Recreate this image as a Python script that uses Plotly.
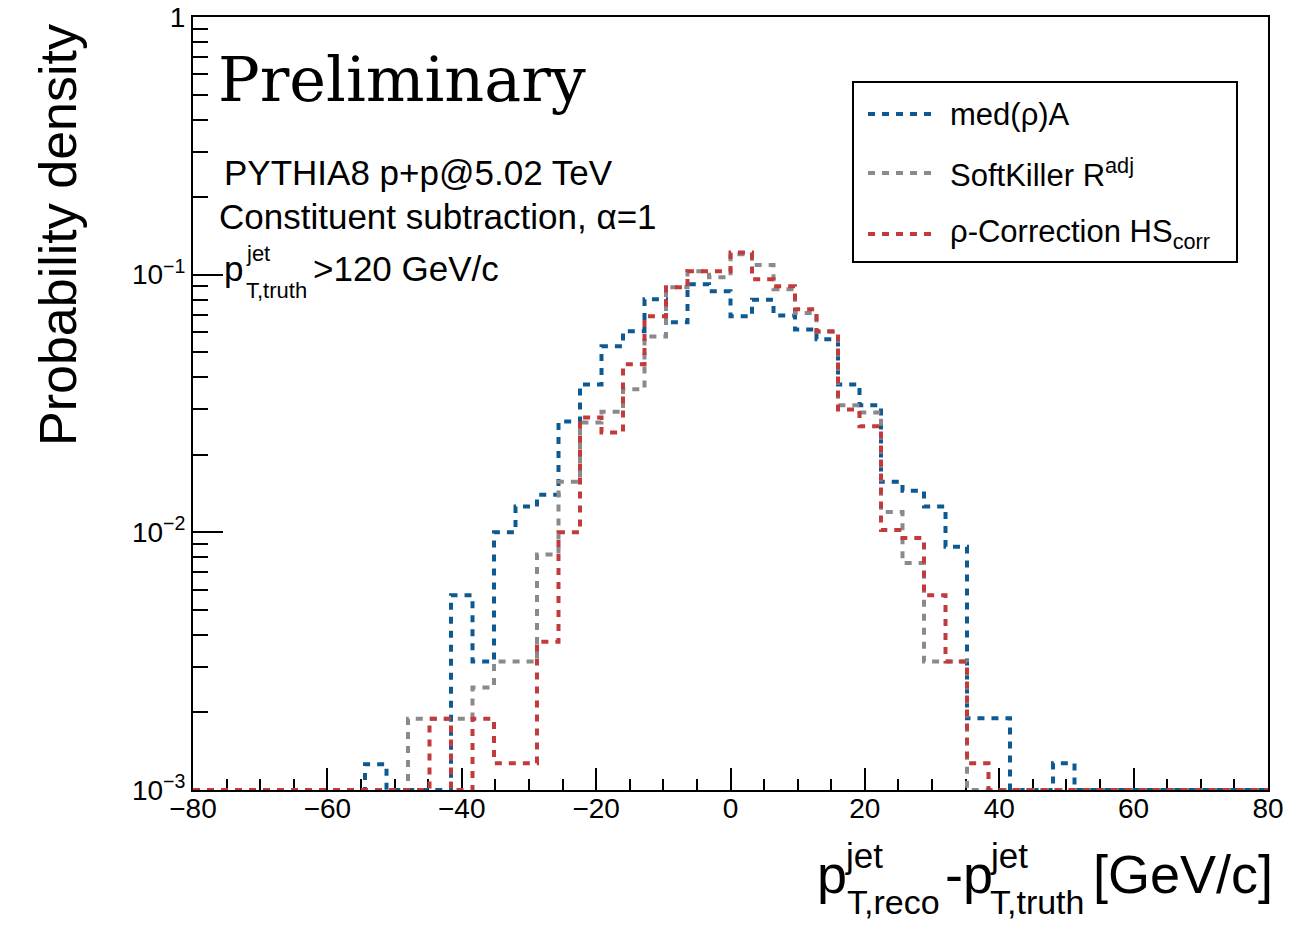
import numpy as np
import plotly.graph_objects as go

# Binning: 50 bins of width 3.2 GeV/c over [-80, 80]
X_MIN, X_MAX, N_BINS = -80.0, 80.0, 50
Y_MIN_EXP, Y_MAX_EXP = -3, 0

# Probability density per bin (lowest bin first)
med_rho_A = [
    0, 0, 0, 0, 0, 0, 0, 0, 1.26e-3, 0,
    0, 0, 5.7e-3, 3.15e-3, 1.00e-2, 1.26e-2, 1.40e-2, 2.69e-2, 3.75e-2, 5.27e-2,
    6.03e-2, 8.02e-2, 6.53e-2, 9.18e-2, 8.62e-2, 6.89e-2, 8.0e-2, 6.95e-2, 6.13e-2, 5.61e-2,
    3.75e-2, 3.11e-2, 1.57e-2, 1.45e-2, 1.26e-2, 8.8e-3, 1.9e-3, 1.9e-3, 0, 0,
    1.27e-3, 0, 0, 0, 0, 0, 0, 0, 0, 0,
]
softkiller_radj = [
    0, 0, 0, 0, 0, 0, 0, 0, 0, 0,
    1.89e-3, 1.89e-3, 1.89e-3, 2.5e-3, 3.15e-3, 3.15e-3, 8.2e-3, 1.57e-2, 2.67e-2, 2.94e-2,
    3.59e-2, 5.76e-2, 8.93e-2, 0.103, 9.77e-2, 0.120, 0.109, 8.78e-2, 7.1e-2, 6.0e-2,
    3.11e-2, 2.92e-2, 1.2e-2, 7.6e-3, 3.15e-3, 3.15e-3, 0, 0, 0, 0,
    0, 0, 0, 0, 0, 0, 0, 0, 0, 0,
]
rho_correction_hs = [
    0, 0, 0, 0, 0, 0, 0, 0, 0, 0,
    0, 1.89e-3, 0, 1.89e-3, 1.27e-3, 1.27e-3, 3.76e-3, 1.0e-2, 2.79e-2, 2.44e-2,
    4.49e-2, 6.89e-2, 8.93e-2, 0.103, 0.103, 0.122, 9.6e-2, 9.02e-2, 7.34e-2, 6.03e-2,
    3.0e-2, 2.58e-2, 1.02e-2, 9.5e-3, 5.7e-3, 3.15e-3, 1.27e-3, 0, 0, 0,
    0, 0, 0, 0, 0, 0, 0, 0, 0, 0,
]

series_names = ["med(ρ)A", "SoftKiller R<sup>adj</sup>", "ρ-Correction HS<sub>corr</sub>"]
series_colors = ["#0d5a93", "#8a8a8c", "#c23a3a"]
series_values = [med_rho_A, softkiller_radj, rho_correction_hs]

x_tick_vals = [-80, -60, -40, -20, 0, 20, 40, 60, 80]
y_tick_vals = [1e-3, 1e-2, 1e-1, 1]
y_tick_text = ["10<sup>−3</sup>", "10<sup>−2</sup>", "10<sup>−1</sup>", "1"]

edges = np.linspace(X_MIN, X_MAX, N_BINS + 1)
floor = 10.0 ** Y_MIN_EXP

FONT = "Liberation Sans, Arial, Helvetica, sans-serif"
SERIF = "DejaVu Serif, serif"
DASH = "7px,7px"

W, H = 1290, 925
PL, PR, PT, PB = 193, 1268, 17, 790


def px(x):
    return (x - PL) / (PR - PL)


def py(y):
    return (PB - y) / (PB - PT)


fig = go.Figure()

# Step histograms; empty bins sit on the axis floor
for name, color, vals in zip(series_names, series_colors, series_values):
    v = np.asarray(vals, dtype=float)
    v = np.where(v > 0, v, floor)
    fig.add_trace(go.Scatter(
        x=edges, y=np.append(v, v[-1]),
        mode="lines", line=dict(shape="hv", color=color, width=4, dash=DASH),
        name=name, showlegend=False, hoverinfo="skip",
    ))

annotations = []


def text(x, y, s, size, family=FONT, xanchor="left", yanchor="middle", angle=0):
    annotations.append(dict(
        x=px(x), y=py(y), xref="paper", yref="paper", text=s, showarrow=False,
        xanchor=xanchor, yanchor=yanchor, textangle=angle,
        font=dict(family=family, size=size, color="black"),
    ))


# Labels inside the frame
text(216, 80, "Preliminary", 62, family=SERIF)
text(222, 172, "PYTHIA8 p+p@5.02 TeV", 35)
text(217, 216, "Constituent subtraction, α=1", 35)
text(222, 268, "p", 35)
text(244, 254, "jet", 22)
text(244, 290, "T,truth", 22)
text(311, 268, "&gt;120 GeV/c", 35)

# Axis titles
text(58, 235, "Probability density", 52, xanchor="center", angle=-90)
text(815, 874, "p", 54)
text(843, 855, "jet", 35)
text(845, 902, "T,reco", 34)
text(943, 874, "-p", 54)
text(988, 855, "jet", 35)
text(988, 902, "T,truth", 34)
text(1091, 874, "[GeV/c]", 54)

# Legend box
shapes = [dict(type="rect", xref="paper", yref="paper",
               x0=px(853), x1=px(1237), y0=py(262), y1=py(82),
               line=dict(color="black", width=2), fillcolor="white", layer="above")]
legend_rows = [114, 173, 234]
for name, color, yy in zip(series_names, series_colors, legend_rows):
    shapes.append(dict(type="line", xref="paper", yref="paper",
                       x0=px(868), x1=px(936), y0=py(yy), y1=py(yy),
                       line=dict(color=color, width=4, dash=DASH), layer="above"))
    text(948, yy, name, 31)

fig.update_layout(
    width=W, height=H,
    margin=dict(l=PL, r=W - PR, t=PT, b=H - PB, autoexpand=False),
    paper_bgcolor="white", plot_bgcolor="white",
    showlegend=False,
    annotations=annotations, shapes=shapes,
    font=dict(family=FONT, color="black"),
)

fig.update_xaxes(
    range=[X_MIN, X_MAX], tickmode="array", tickvals=x_tick_vals,
    ticks="inside", ticklen=22, tickwidth=2, tickcolor="black",
    minor=dict(dtick=5, tick0=X_MIN, ticks="inside", ticklen=11, tickwidth=2, tickcolor="black"),
    showline=True, linewidth=2, linecolor="black", mirror=True,
    showgrid=False, zeroline=False, layer="below traces", automargin=False,
    ticklabelstandoff=-8,
    tickfont=dict(family=FONT, size=28, color="black"),
)

minor_y = [k * 10.0 ** d for d in range(Y_MIN_EXP, Y_MAX_EXP) for k in range(2, 10)]
fig.update_yaxes(
    type="log", range=[Y_MIN_EXP, Y_MAX_EXP],
    tickmode="array", tickvals=y_tick_vals, ticktext=y_tick_text,
    ticks="inside", ticklen=30, tickwidth=2, tickcolor="black",
    minor=dict(tickmode="array", tickvals=minor_y, ticks="inside", ticklen=15,
               tickwidth=2, tickcolor="black"),
    showline=True, linewidth=2, linecolor="black", mirror=True,
    showgrid=False, zeroline=False, layer="below traces", automargin=False,
    tickfont=dict(family=FONT, size=28, color="black"),
)

fig.write_html("out.html")
